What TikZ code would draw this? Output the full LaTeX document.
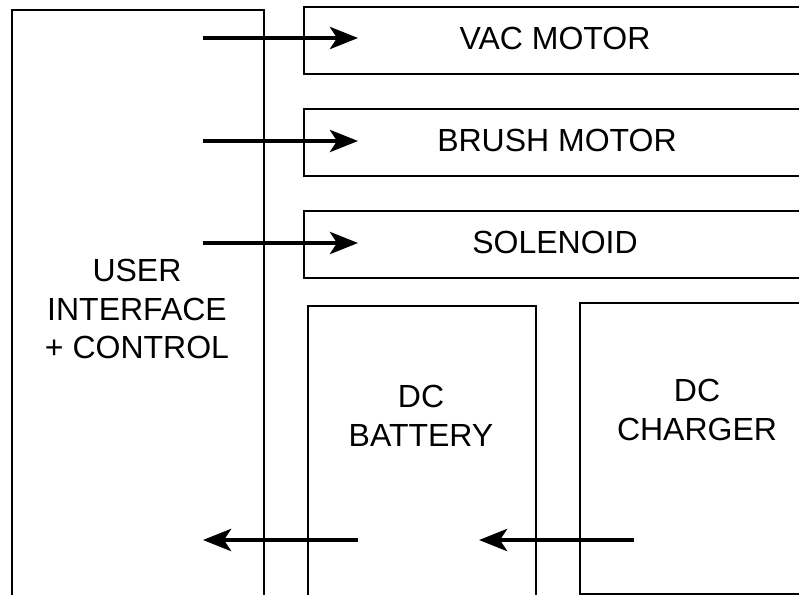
\documentclass[tikz,border=0pt]{standalone}
\usepackage{fontspec}
\setmainfont{Liberation Sans}
\usetikzlibrary{arrows.meta}
\tikzset{
  blk/.style={draw=black, line width=2.4pt, fill=none, inner sep=0pt, anchor=north west},
  lbl/.style={align=center, font=\fontsize{32}{38.5}\selectfont, inner sep=0pt},
  sig/.style={line width=4.5pt, -{Stealth[length=28pt, width=22pt, inset=7pt]}}
}
\begin{document}
\begin{tikzpicture}[x=1pt,y=-1pt]
\useasboundingbox (0,0) rectangle (799,594);
\fill[white] (0,0) rectangle (799,594);
\begin{scope}
\clip (0,0) rectangle (799,594);
% boxes
\node[blk, minimum width=252pt, minimum height=640pt] (ui) at (11,9) {};
\node[blk, minimum width=520pt, minimum height=67pt] (vac) at (303,6) {};
\node[blk, minimum width=520pt, minimum height=67pt] (brush) at (303,108) {};
\node[blk, minimum width=520pt, minimum height=67pt] (sol) at (303,210) {};
\node[blk, minimum width=228pt, minimum height=320pt] (bat) at (307,305) {};
\node[blk, minimum width=260pt, minimum height=291pt] (chg) at (579,302) {};
% labels
\node[lbl] (uit) at (137,309) {USER\\INTERFACE\\+ CONTROL};
\node[lbl] (vact) at (555,38) {VAC MOTOR};
\node[lbl] (brusht) at (557,140) {BRUSH MOTOR};
\node[lbl] (solt) at (555,242) {SOLENOID};
\node[lbl] (batt) at (421,416) {DC\\BATTERY};
\node[lbl] (chgt) at (697,410) {DC\\CHARGER};
% connectors
\coordinate (a1s) at (203,38);  \coordinate (a1e) at (358,38);
\coordinate (a2s) at (203,141); \coordinate (a2e) at (358,141);
\coordinate (a3s) at (203,243); \coordinate (a3e) at (358,243);
\coordinate (a4s) at (358,540); \coordinate (a4e) at (203,540);
\coordinate (a5s) at (634,540); \coordinate (a5e) at (479,540);
\draw[sig] (a1s) -- (a1e);
\draw[sig] (a2s) -- (a2e);
\draw[sig] (a3s) -- (a3e);
\draw[sig] (a4s) -- (a4e);
\draw[sig] (a5s) -- (a5e);
\end{scope}
\end{tikzpicture}
\end{document}
